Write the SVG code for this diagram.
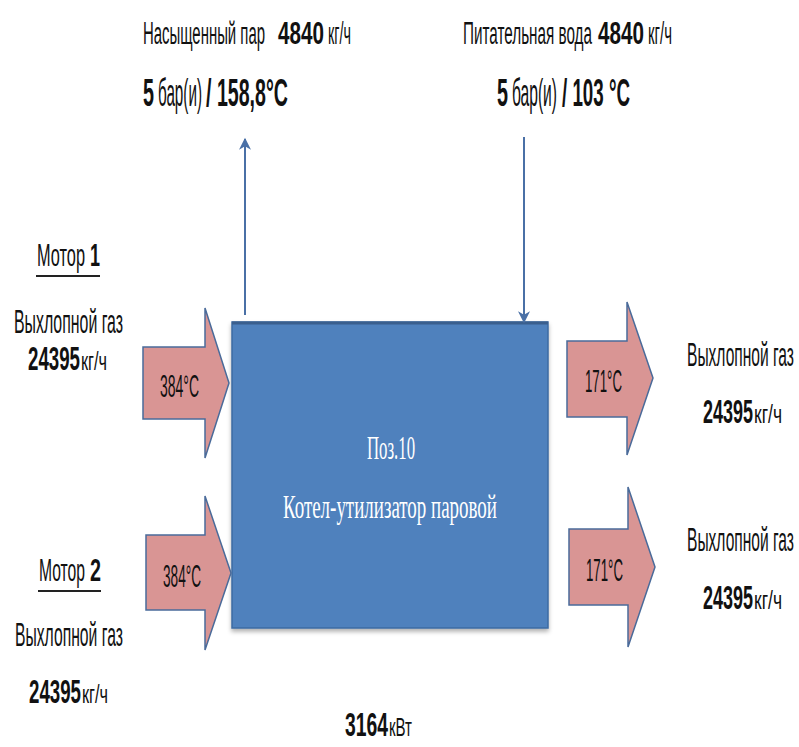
<svg xmlns="http://www.w3.org/2000/svg" width="799" height="747" viewBox="0 0 799 747">
<defs>
<style>
.t{font-family:"Liberation Sans",Arial,sans-serif;fill:#111;}
.b{font-weight:bold;}
.s{font-family:"Liberation Serif","Times New Roman",serif;fill:#fff;}
.blk{fill:#D99594;stroke:#4A6B9A;stroke-width:1.5;}
.ln{stroke:#4A70A6;stroke-width:2;fill:none;}
</style>
<marker id="ah" viewBox="0 0 10 10" refX="9" refY="5" markerWidth="7" markerHeight="6" orient="auto" markerUnits="strokeWidth">
<path d="M0,0 L10,5 L0,10 L3,5 z" fill="#4A70A6"/>
</marker>
<filter id="sh" x="-5%" y="-5%" width="110%" height="112%">
<feDropShadow dx="0" dy="3" stdDeviation="2" flood-color="#000" flood-opacity="0.3"/>
</filter>
</defs>
<rect width="799" height="747" fill="#fff"/>

<g id="boiler">
<rect x="232" y="322" width="316" height="306" fill="#4F81BD" stroke="#3D6BA3" stroke-width="1.5" filter="url(#sh)"/>
<line x1="232" y1="323" x2="548" y2="323" stroke="#3A5F8E" stroke-width="3"/>
<text class="s" transform="translate(367,459) scale(0.492,1)" font-size="34" textLength="97.6" lengthAdjust="spacingAndGlyphs">Поз.10</text>
<text class="s" transform="translate(283,518) scale(0.547,1)" font-size="34" textLength="391.2" lengthAdjust="spacingAndGlyphs">Котел-утилизатор паровой</text>
</g>

<g id="connectors">
<line class="ln" x1="245" y1="315" x2="245" y2="139" marker-end="url(#ah)"/>
<line class="ln" x1="524" y1="137" x2="524" y2="322" marker-end="url(#ah)"/>
</g>

<g id="steam">
<text class="t" transform="translate(143,44) scale(0.476,1)" font-size="31" textLength="256.3" lengthAdjust="spacingAndGlyphs">Насыщенный пар</text>
<text class="t b" transform="translate(278,44) scale(0.667,1)" font-size="31" textLength="68.9" lengthAdjust="spacingAndGlyphs">4840</text>
<text class="t" transform="translate(328,44) scale(0.463,1)" font-size="31" textLength="49.7" lengthAdjust="spacingAndGlyphs">кг/ч</text>
<text class="t b" transform="translate(143,106) scale(0.521,1)" font-size="38" textLength="21.1" lengthAdjust="spacingAndGlyphs">5</text>
<text class="t" transform="translate(158,106) scale(0.398,1)" font-size="38" textLength="110.6" lengthAdjust="spacingAndGlyphs">бар(и)</text>
<text class="t b" transform="translate(206,106) scale(0.516,1)" font-size="38" textLength="158.8" lengthAdjust="spacingAndGlyphs">/ 158,8°C</text>
</g>

<g id="feedwater">
<text class="t" transform="translate(463,44) scale(0.484,1)" font-size="31" textLength="266.5" lengthAdjust="spacingAndGlyphs">Питательная вода</text>
<text class="t b" transform="translate(598,44) scale(0.667,1)" font-size="31" textLength="68.9" lengthAdjust="spacingAndGlyphs">4840</text>
<text class="t" transform="translate(648,44) scale(0.483,1)" font-size="31" textLength="49.7" lengthAdjust="spacingAndGlyphs">кг/ч</text>
<text class="t b" transform="translate(497,106) scale(0.521,1)" font-size="38" textLength="21.1" lengthAdjust="spacingAndGlyphs">5</text>
<text class="t" transform="translate(512,106) scale(0.407,1)" font-size="38" textLength="110.6" lengthAdjust="spacingAndGlyphs">бар(и)</text>
<text class="t b" transform="translate(562,106) scale(0.494,1)" font-size="38" textLength="137.7" lengthAdjust="spacingAndGlyphs">/ 103 °C</text>
</g>

<g id="motor1">
<text class="t" transform="translate(37,266) scale(0.507,1)" font-size="32" textLength="94.7" lengthAdjust="spacingAndGlyphs">Мотор</text>
<text class="t b" transform="translate(90,266) scale(0.562,1)" font-size="32" textLength="17.8" lengthAdjust="spacingAndGlyphs">1</text>
<line x1="36" y1="276" x2="100" y2="276" stroke="#222" stroke-width="2"/>
<text class="t" transform="translate(14,333) scale(0.478,1)" font-size="33" textLength="228.1" lengthAdjust="spacingAndGlyphs">Выхлопной газ</text>
<text class="t b" transform="translate(28,370) scale(0.55,1)" font-size="34" textLength="94.5" lengthAdjust="spacingAndGlyphs">24395</text>
<text class="t" transform="translate(81,370) scale(0.649,1)" font-size="25" textLength="40.1" lengthAdjust="spacingAndGlyphs">кг/ч</text>
</g>

<g id="in1">
<polygon class="blk" points="143,347 205,347 205,308 229,383 205,458 205,419 143,419"/>
<text class="t" transform="translate(160,397) scale(0.437,1)" font-size="32" textLength="89.3" lengthAdjust="spacingAndGlyphs">384°C</text>
</g>

<g id="motor2">
<text class="t" transform="translate(39,581) scale(0.486,1)" font-size="32" textLength="94.7" lengthAdjust="spacingAndGlyphs">Мотор</text>
<text class="t b" transform="translate(90,581) scale(0.618,1)" font-size="32" textLength="17.8" lengthAdjust="spacingAndGlyphs">2</text>
<line x1="38" y1="591" x2="101" y2="591" stroke="#222" stroke-width="2"/>
<text class="t" transform="translate(15,646) scale(0.473,1)" font-size="33" textLength="228.1" lengthAdjust="spacingAndGlyphs">Выхлопной газ</text>
<text class="t b" transform="translate(29,703) scale(0.55,1)" font-size="34" textLength="94.5" lengthAdjust="spacingAndGlyphs">24395</text>
<text class="t" transform="translate(82,703) scale(0.649,1)" font-size="25" textLength="40.1" lengthAdjust="spacingAndGlyphs">кг/ч</text>
</g>

<g id="in2">
<polygon class="blk" points="146,535 205,535 205,496 231,573 205,650 205,610 146,610"/>
<text class="t" transform="translate(163,587) scale(0.426,1)" font-size="32" textLength="89.3" lengthAdjust="spacingAndGlyphs">384°C</text>
</g>

<g id="out1">
<polygon class="blk" points="567,341 627,341 627,302 653,378 627,455 627,417 567,417"/>
<text class="t" transform="translate(585,392) scale(0.414,1)" font-size="32" textLength="89.3" lengthAdjust="spacingAndGlyphs">171°C</text>
</g>

<g id="out2">
<polygon class="blk" points="569,529 628,529 628,487 655,567 628,647 628,605 569,605"/>
<text class="t" transform="translate(586,581) scale(0.414,1)" font-size="32" textLength="89.3" lengthAdjust="spacingAndGlyphs">171°C</text>
</g>

<g id="exhaust1">
<text class="t" transform="translate(687,366) scale(0.469,1)" font-size="33" textLength="228.1" lengthAdjust="spacingAndGlyphs">Выхлопной газ</text>
<text class="t b" transform="translate(703,423) scale(0.529,1)" font-size="34" textLength="94.5" lengthAdjust="spacingAndGlyphs">24395</text>
<text class="t" transform="translate(754,423) scale(0.698,1)" font-size="25" textLength="40.1" lengthAdjust="spacingAndGlyphs">кг/ч</text>
</g>

<g id="exhaust2">
<text class="t" transform="translate(687,551) scale(0.469,1)" font-size="33" textLength="228.1" lengthAdjust="spacingAndGlyphs">Выхлопной газ</text>
<text class="t b" transform="translate(703,609) scale(0.529,1)" font-size="34" textLength="94.5" lengthAdjust="spacingAndGlyphs">24395</text>
<text class="t" transform="translate(754,609) scale(0.698,1)" font-size="25" textLength="40.1" lengthAdjust="spacingAndGlyphs">кг/ч</text>
</g>

<g id="power">
<text class="t b" transform="translate(345,736) scale(0.569,1)" font-size="34" textLength="75.6" lengthAdjust="spacingAndGlyphs">3164</text>
<text class="t" transform="translate(389,736) scale(0.588,1)" font-size="25" textLength="39.1" lengthAdjust="spacingAndGlyphs">кВт</text>
</g>
</svg>
